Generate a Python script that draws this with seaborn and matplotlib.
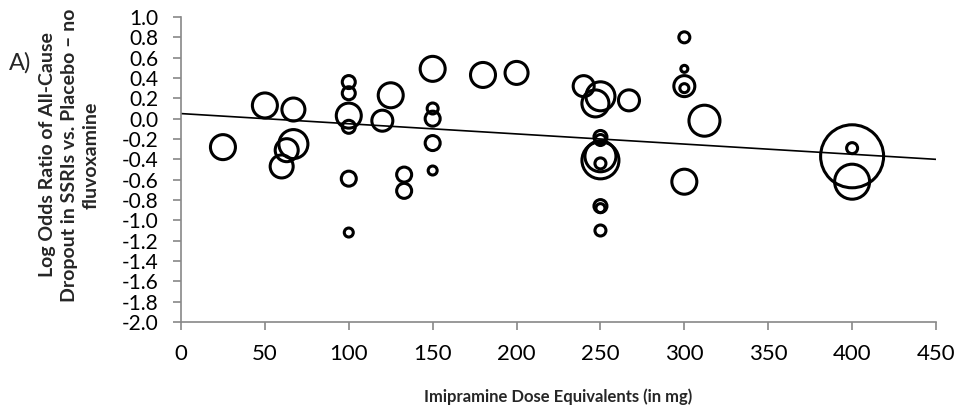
import numpy as np
import pandas as pd
import matplotlib
matplotlib.use('Agg')
import matplotlib.pyplot as plt
import seaborn as sns

# dose (imipramine equivalents, mg), log odds ratio, relative bubble size
dose = [25, 50, 60, 63, 67, 67,
        100, 100, 100, 100, 100, 100,
        120, 125, 133, 133,
        150, 150, 150, 150, 150,
        180, 200,
        240, 247, 250, 267,
        250, 250, 250, 250, 250, 250, 250, 250,
        300, 300, 300, 300, 300,
        312, 400, 400, 400]
log_or = [-0.28, 0.13, -0.47, -0.31, -0.25, 0.09,
          0.36, 0.25, 0.03, -0.08, -0.59, -1.12,
          -0.02, 0.23, -0.55, -0.71,
          0.49, 0.10, 0.00, -0.24, -0.51,
          0.43, 0.45,
          0.32, 0.15, 0.22, 0.18,
          -0.18, -0.21, -0.41, -0.37, -0.44, -0.86, -0.88, -1.10,
          0.80, 0.49, 0.32, 0.30, -0.62,
          -0.02, -0.37, -0.29, -0.62]
weight = [14, 14, 13, 13, 16, 13,
          8, 8, 14, 8, 9, 6,
          12, 14, 9, 9,
          14, 7, 9, 9, 6,
          14, 13,
          12, 15, 16, 12,
          8, 7, 20, 17, 7, 8, 6, 7,
          7, 5, 12, 6, 14,
          17, 33, 7, 19]

# fitted meta-regression line
fit_intercept = 0.05
fit_slope = -0.001

x_ticks = list(range(0, 451, 50))
y_ticks = [round(-2.0 + 0.2 * i, 1) + 0.0 for i in range(16)]

df = pd.DataFrame({'dose': dose, 'log_or': log_or, 'weight': weight})
lw_pt = 2.2
df['area'] = ((2 * df['weight'] - 3) * 0.72) ** 2

sns.set_style('white')
plt.rcParams['font.family'] = ['Lato', 'DejaVu Sans']

fig = plt.figure(figsize=(9.61, 4.18), dpi=100)
ax = fig.add_axes([181 / 961, 1 - 322 / 418, (936 - 181) / 961, (322 - 17) / 418])

sns.scatterplot(data=df, x='dose', y='log_or', size='area',
                sizes=(df['area'].min(), df['area'].max()),
                size_norm=(df['area'].min(), df['area'].max()),
                facecolor='none', edgecolor='black', linewidth=lw_pt,
                legend=False, ax=ax, clip_on=False)

xs = np.array([0, 450])
ax.plot(xs, fit_intercept + fit_slope * xs, color='black', lw=1.2)

ax.set_xlim(0, 450)
ax.set_ylim(-2.0, 1.0)
ax.set_xticks(x_ticks)
ax.set_xticklabels([str(v) for v in x_ticks])
ax.set_yticks(y_ticks)
ax.set_yticklabels([f'{v:.1f}' for v in y_ticks])

for s in ['top', 'right']:
    ax.spines[s].set_visible(False)
for s in ['left', 'bottom']:
    ax.spines[s].set_color('#888888')
    ax.spines[s].set_linewidth(1.2)
ax.tick_params(axis='both', direction='out', length=5.5, width=1.2, color='#888888',
               labelcolor='black', left=True, bottom=True)
ax.tick_params(axis='x', labelsize=16, pad=10)
ax.tick_params(axis='y', labelsize=15, pad=11)

ax.set_xlabel('Imipramine Dose Equivalents (in mg)', fontsize=12, fontweight='bold')
ax.xaxis.set_label_coords(0.5, -0.217)
ax.set_ylabel('Log Odds Ratio of All-Cause\nDropout in SSRIs vs. Placebo \u2013 no\nfluvoxamine',
              fontsize=14, fontweight='bold', linespacing=1.35)
ax.yaxis.set_label_coords(-0.108, 0.548)
fig.text(9 / 961, 1 - 63 / 418, 'A)', fontsize=17, ha='left', va='center')

fig.savefig('out.png', dpi=100)
